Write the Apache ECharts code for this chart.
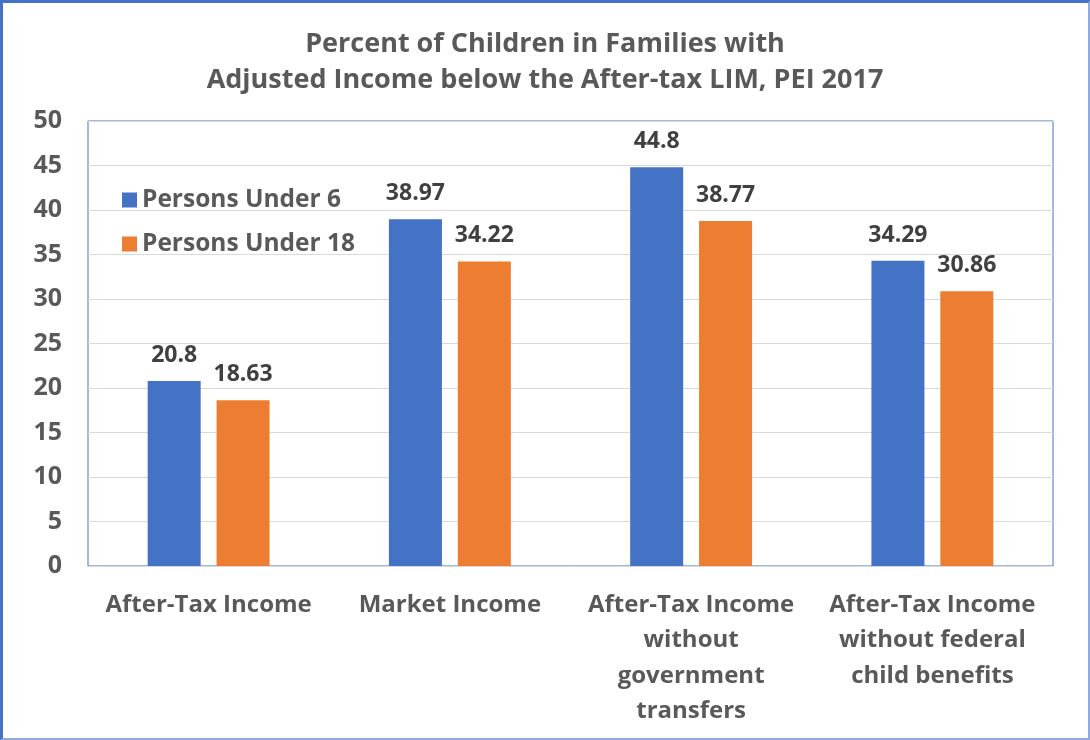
<!DOCTYPE html>
<html><head><meta charset="utf-8">
<script src="https://cdn.jsdelivr.net/npm/echarts@6/dist/echarts.min.js"></script>
<style>
html,body{margin:0;padding:0;background:#fff;}
#wrap{position:absolute;left:0;top:0;width:1090px;height:740px;box-sizing:border-box;border-top:3px solid #4472C4;border-left:3px solid #4472C4;border-right:2px solid #8FAADC;border-bottom:2px solid #8FAADC;}
#chart{position:absolute;left:-3px;top:-3px;width:1090px;height:740px;}
</style></head>
<body><div id="wrap"><div id="chart"></div></div>
<script>
const categories = ['After-Tax Income', 'Market Income', 'After-Tax Income\nwithout\ngovernment\ntransfers', 'After-Tax Income\nwithout federal\nchild benefits'];
const seriesNames = ['Persons Under 6', 'Persons Under 18'];
const under6 = [20.8, 38.97, 44.8, 34.29];
const under18 = [18.63, 34.22, 38.77, 30.86];
const yTicks = {min: 0, max: 50, interval: 5};

const font = '"Open Sans", Lato, sans-serif';
const chart = echarts.init(document.getElementById('chart'));
const labelStyle = {show: true, position: 'top', distance: 14, color: '#404040', fontSize: 23, fontWeight: 'bold', fontFamily: font};
chart.setOption({
  animation: false,
  title: {
    text: 'Percent of Children in Families with\nAdjusted Income below the After-tax LIM, PEI 2017',
    left: 'center', top: 21,
    textStyle: {color: '#595959', fontSize: 27, fontWeight: 'bold', fontFamily: font, lineHeight: 36}
  },
  legend: {
    orient: 'vertical', left: 117, top: 180, itemWidth: 15, itemHeight: 15, itemGap: 14, icon: 'rect',
    data: seriesNames,
    textStyle: {color: '#595959', fontSize: 24.5, fontWeight: 'bold', fontFamily: font, lineHeight: 30}
  },
  grid: {left: 88, right: 37, top: 121, bottom: 174, show: true, borderColor: '#4472C4', borderWidth: 1},
  xAxis: {
    type: 'category', data: categories,
    axisLine: {show: true, lineStyle: {color: '#D9D9D9', width: 1}},
    axisTick: {show: false},
    axisLabel: {color: '#595959', fontSize: 24, fontWeight: 'bold', fontFamily: font, lineHeight: 35.5, margin: 21, interval: 0}
  },
  yAxis: {
    type: 'value', min: yTicks.min, max: yTicks.max, interval: yTicks.interval,
    axisLine: {show: false}, axisTick: {show: false},
    splitLine: {lineStyle: {color: '#D9D9D9', width: 1}},
    axisLabel: {color: '#595959', fontSize: 25, fontWeight: 'bold', fontFamily: font, margin: 26}
  },
  series: [
    {name: seriesNames[0], type: 'bar', data: under6, itemStyle: {color: '#4472C4'}, barWidth: 53, barGap: '30%', label: labelStyle},
    {name: seriesNames[1], type: 'bar', data: under18, itemStyle: {color: '#ED7D31'}, barWidth: 53, label: labelStyle}
  ]
});
</script></body></html>
